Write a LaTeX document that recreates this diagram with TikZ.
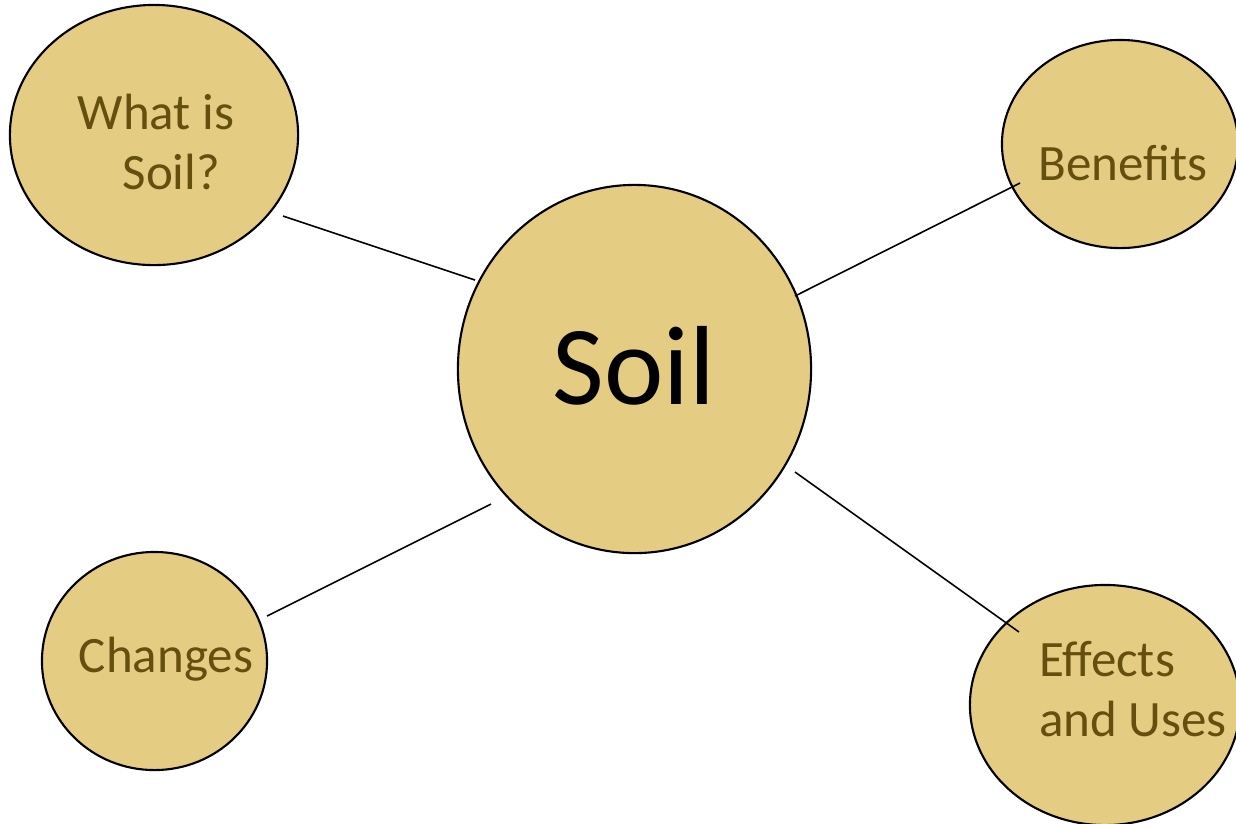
\documentclass[tikz,border=0pt]{standalone}
\usepackage{fontspec}
\setmainfont{Carlito}
\usetikzlibrary{shapes.geometric}
\definecolor{bubble}{HTML}{E5CC83}
\definecolor{ink}{HTML}{654F0E}
\tikzset{
  bub/.style={ellipse, draw=black, line width=0.6pt, fill=bubble, inner sep=0pt},
  lbl/.style={text=ink, font=\fontsize{14.5}{17}\selectfont, align=center, inner sep=0pt},
  link/.style={draw=black, line width=0.45pt}
}
\begin{document}
\begin{tikzpicture}[x=0.01cm, y=-0.01cm]
\useasboundingbox (0,0) rectangle (1236,823);
\clip (0,0) rectangle (1236,823);
\fill[white] (0,0) rectangle (1236,823);
% bubbles
\node[bub, minimum width=2.88cm, minimum height=2.60cm] (what) at (154,135) {};
\node[bub, minimum width=2.36cm, minimum height=2.08cm] (ben) at (1120,144) {};
\node[bub, minimum width=3.53cm, minimum height=3.68cm] (soil) at (634.5,369) {};
\node[bub, minimum width=2.25cm, minimum height=2.18cm] (chg) at (154.5,661) {};
\node[bub, minimum width=2.70cm, minimum height=2.40cm] (eff) at (1105,705) {};
% labels
\node[lbl] (twhat) at (156,142) {What is\\ \hspace*{0.6em}Soil?};
\node[lbl] (tben) at (1123,163) {Benefits};
\node[lbl] (tchg) at (166,659) {Changes};
\node[lbl, align=left] (teff) at (1133,689) {Effects\\and Uses};
\node[text=black, font=\fontsize{32}{36}\selectfont, inner sep=0pt] (tsoil) at (634,366) {Soil};
% connector ends
\coordinate (a1) at ([shift={(129,81)}]what.center);
\coordinate (a2) at ([shift={(-159.5,-89)}]soil.center);
\coordinate (b1) at ([shift={(160.5,-73)}]soil.center);
\coordinate (b2) at ([shift={(-100,39)}]ben.center);
\coordinate (c1) at ([shift={(112.5,-45)}]chg.center);
\coordinate (c2) at ([shift={(-143.5,135)}]soil.center);
\coordinate (d1) at ([shift={(160.5,103)}]soil.center);
\coordinate (d2) at ([shift={(-86,-73)}]eff.center);
% connectors
\draw[link] (a1) -- (a2);
\draw[link] (b1) -- (b2);
\draw[link] (c1) -- (c2);
\draw[link] (d1) -- (d2);
\end{tikzpicture}
\end{document}
